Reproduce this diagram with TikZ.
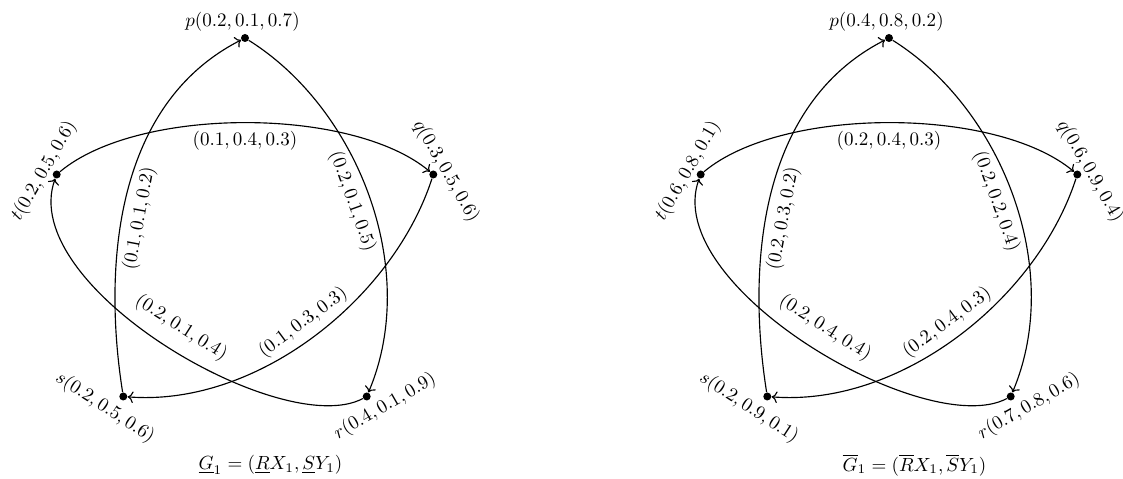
\documentclass[tikz,border=0pt]{standalone}
\usetikzlibrary{arrows.meta}
\begin{document}
\begin{tikzpicture}[x=0.525pt,y=0.525pt,
  dot/.style={circle,fill=black,inner sep=0pt,minimum size=4.2pt},
  edge/.style={->,line width=0.6pt},
  elab/.style={inner sep=0pt,sloped},
  vlab/.style={inner sep=0pt}]
\useasboundingbox (0,0) rectangle (1123,479);
% ---------- left graph ----------
\node[dot] (p1) at (245,441) {};
\node[dot] (q1) at (433.3,304.5) {};
\node[dot] (r1) at (366.7,82.5) {};
\node[dot] (s1) at (123.3,82.5) {};
\node[dot] (t1) at (56.7,304.5) {};
\node[vlab] (pl1) at ([shift={(-2.5,16)}]p1.center) {$p(0.2,0.1,0.7)$};
\node[vlab,rotate=-60] (ql1) at ([shift={(12.7,3.5)}]q1.center) {$q(0.3,0.5,0.6)$};
\node[vlab,rotate=-33] (sl1) at ([shift={(-18.3,-11)}]s1.center) {$s(0.2,0.5,0.6)$};
\node[vlab,rotate=30] (rl1) at ([shift={(18.3,-10)}]r1.center) {$r(0.4,0.1,0.9)$};
\node[vlab,rotate=60] (tl1) at ([shift={(-12.7,3.5)}]t1.center) {$t(0.2,0.5,0.6)$};
\draw[edge] (t1) .. controls +(40:106) and +(140:106) .. node[elab,pos=0.5,below=4] {$(0.1,0.4,0.3)$} (q1);
\draw[edge] (p1) .. controls +(-32:132) and +(67:139) .. node[elab,pos=0.5,below=4] {$(0.2,0.1,0.5)$} (r1);
\draw[edge] (s1) .. controls +(99:126) and +(207:149) .. node[elab,pos=0.45,below=4] {$(0.1,0.1,0.2)$} (p1);
\draw[edge] (r1) .. controls +(208:95) and +(250:119) .. node[elab,pos=0.49,above=7] {$(0.2,0.1,0.4)$} (t1);
\draw[edge] (q1) .. controls +(252:131) and +(-4.5:134) .. node[elab,pos=0.5,above=4] {$(0.1,0.3,0.3)$} (s1);
\node (c1) at (270.5,14) {$\underline{G}_1=(\underline{R}X_1,\underline{S}Y_1)$};
% ---------- right graph ----------
\begin{scope}[shift={(644,0)}]
\node[dot] (p2) at (245,441) {};
\node[dot] (q2) at (433.3,304.5) {};
\node[dot] (r2) at (366.7,82.5) {};
\node[dot] (s2) at (123.3,82.5) {};
\node[dot] (t2) at (56.7,304.5) {};
\node[vlab] (pl2) at ([shift={(-2.5,16)}]p2.center) {$p(0.4,0.8,0.2)$};
\node[vlab,rotate=-60] (ql2) at ([shift={(12.7,3.5)}]q2.center) {$q(0.6,0.9,0.4)$};
\node[vlab,rotate=-33] (sl2) at ([shift={(-18.3,-11)}]s2.center) {$s(0.2,0.9,0.1)$};
\node[vlab,rotate=30] (rl2) at ([shift={(18.3,-10)}]r2.center) {$r(0.7,0.8,0.6)$};
\node[vlab,rotate=60] (tl2) at ([shift={(-12.7,3.5)}]t2.center) {$t(0.6,0.8,0.1)$};
\draw[edge] (t2) .. controls +(40:106) and +(140:106) .. node[elab,pos=0.5,below=4] {$(0.2,0.4,0.3)$} (q2);
\draw[edge] (p2) .. controls +(-32:132) and +(67:139) .. node[elab,pos=0.5,below=4] {$(0.2,0.2,0.4)$} (r2);
\draw[edge] (s2) .. controls +(99:126) and +(207:149) .. node[elab,pos=0.45,below=4] {$(0.2,0.3,0.2)$} (p2);
\draw[edge] (r2) .. controls +(208:95) and +(250:119) .. node[elab,pos=0.49,above=7] {$(0.2,0.4,0.4)$} (t2);
\draw[edge] (q2) .. controls +(252:131) and +(-4.5:134) .. node[elab,pos=0.5,above=4] {$(0.2,0.4,0.3)$} (s2);
\node (c2) at (270.5,14) {$\overline{G}_1=(\overline{R}X_1,\overline{S}Y_1)$};
\end{scope}
\end{tikzpicture}
\end{document}
